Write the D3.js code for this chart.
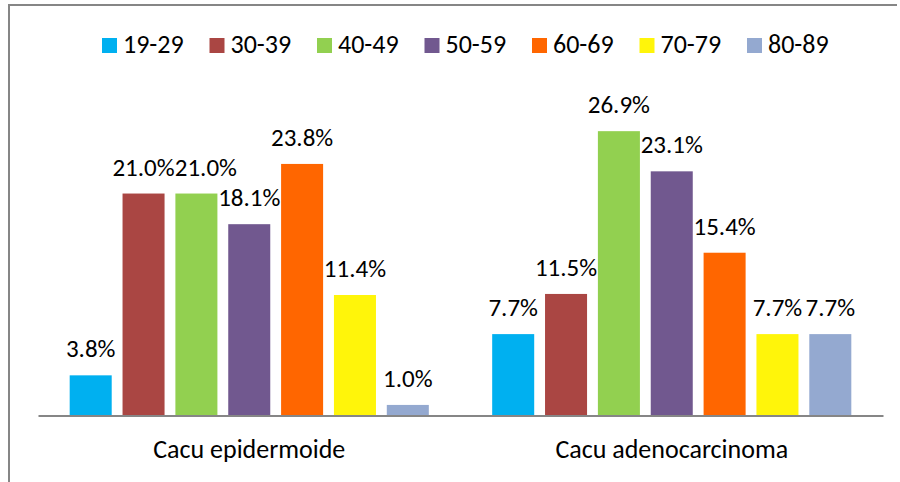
<!DOCTYPE html>
<html><head><meta charset="utf-8">
<script src="https://cdn.jsdelivr.net/npm/d3@7"></script>
<style>html,body{margin:0;padding:0;background:#fff;}svg{display:block;}</style>
</head><body>
<svg id="chart" width="900" height="482"></svg>
<script>
const categories = ["Cacu epidermoide", "Cacu adenocarcinoma"];
const ageGroups = ["19-29", "30-39", "40-49", "50-59", "60-69", "70-79", "80-89"];
const epidermoide = [3.8, 21.0, 21.0, 18.1, 23.8, 11.4, 1.0];
const adenocarcinoma = [7.7, 11.5, 26.9, 23.1, 15.4, 7.7, 7.7];
const colors = ["#00B0F0", "#AA4643", "#92D050", "#71588F", "#FF6600", "#FFF50A", "#94A9D0"];
const yMax = 30;

const seriesByCat = [epidermoide, adenocarcinoma];
const FONT = "Carlito, Lato, 'Open Sans', sans-serif";
const FS = 26, LFS = 25;
const svg = d3.select("#chart");

// border (top + left)
svg.append("path").attr("d", "M9,482 V5 H897").attr("fill", "none")
  .attr("stroke", "#868686").attr("stroke-width", 2);

const x0 = d3.scaleBand().domain(categories).range([38, 883]).paddingInner(0).paddingOuter(0);
const x1 = d3.scaleBand().domain(ageGroups).range([26.4, x0.bandwidth() - 26.4]).paddingInner(0.205).paddingOuter(0.1);
const y = d3.scaleLinear().domain([0, yMax]).range([415.5, 415.5 - yMax * 10.57]);

const data = [];
categories.forEach((c, ci) => ageGroups.forEach((g, gi) => data.push({c, g, gi, v: seriesByCat[ci][gi]})));

svg.append("g").selectAll("rect").data(data).join("rect")
  .attr("x", d => x0(d.c) + x1(d.g))
  .attr("width", x1.bandwidth())
  .attr("y", d => y(d.v))
  .attr("height", d => y(0) - y(d.v))
  .attr("fill", d => colors[d.gi]);

const labels = svg.append("g").selectAll("text").data(data).join("text")
  .attr("x", d => x0(d.c) + x1(d.g) + x1.bandwidth() / 2)
  .attr("y", d => y(d.v) - 18)
  .attr("text-anchor", "middle")
  .attr("font-family", FONT).attr("font-size", LFS).attr("fill", "#000")
  .text(d => d.v.toFixed(1) + "%");

// nudge a label right when it collides with its left neighbour at the same height
const nodes = labels.nodes();
for (let i = 1; i < nodes.length; i++) {
  if (data[i].c !== data[i - 1].c) continue;
  const a = nodes[i - 1].getBBox(), b = nodes[i].getBBox();
  if (Math.abs(a.y - b.y) < LFS * 0.8) {
    const overlap = a.x + a.width - b.x;
    if (overlap > 0) nodes[i].setAttribute("x", +nodes[i].getAttribute("x") + overlap);
  }
}

// x axis
const xAxis = svg.append("g").attr("transform", `translate(0,${y(0)})`)
  .call(d3.axisBottom(x0).tickSize(0).tickPadding(24));
xAxis.select(".domain").attr("stroke", "#868686").attr("stroke-width", 2);
xAxis.selectAll("text").attr("font-family", FONT).attr("font-size", FS).attr("fill", "#000");

// legend
const legX = d3.scalePoint().domain(ageGroups).range([102, 747]);
const leg = svg.append("g").selectAll("g").data(ageGroups).join("g")
  .attr("transform", d => `translate(${legX(d)},38)`);
leg.append("rect").attr("width", 15).attr("height", 15).attr("fill", (d, i) => colors[i]);
leg.append("text").attr("x", 21).attr("y", 15)
  .attr("font-family", FONT).attr("font-size", FS).attr("fill", "#000").text(d => d);
</script>
</body></html>
